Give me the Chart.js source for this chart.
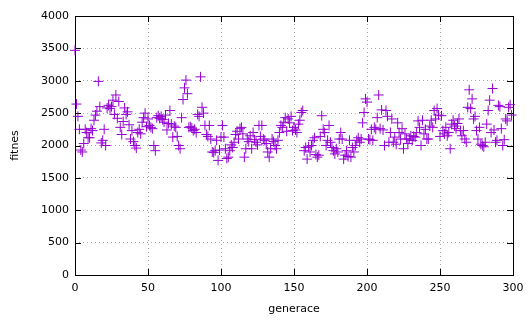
<!DOCTYPE html>
<html>
<head>
<meta charset="utf-8">
<script src="https://cdn.jsdelivr.net/npm/chart.js@4/dist/chart.umd.min.js"></script>
<style>
  html, body { margin: 0; padding: 0; background: #fff; }
  canvas { display: block; }
</style>
</head>
<body>
<canvas id="chart" width="526" height="325"></canvas>
<script>
// fitness per generation (gen 0..299)
const fitnes = [
  3470, 2640, 2450, 2250, 1930, 1900, 2030, 2250, 2200, 2120,
  2120, 2260, 2230, 2390, 2470, 2530, 2990, 2600, 2040, 2080,
  2250, 2000, 2580, 2620, 2570, 2600, 2700, 2480, 2780, 2420,
  2680, 2280, 2170, 2370, 2580, 2480, 2520, 2320, 2100, 2230,
  2060, 2000, 1960, 2200, 2250, 2180, 2360, 2430, 2500, 2290,
  2410, 2310, 2280, 2260, 2000, 1920, 2430, 2460, 2420, 2450,
  2400, 2360, 2470, 2240, 2340, 2540, 2330, 2130, 2300, 2280,
  2140, 2000, 1950, 2430, 2710, 2890, 3010, 2800, 2280, 2290,
  2270, 2230, 2250, 2200, 2480, 2450, 3060, 2590, 2500, 2310,
  2170, 2140, 2310, 2100, 1900, 1890, 1920, 2080, 1770, 1930,
  2130, 2310, 2130, 1950, 1800, 1820, 1920, 2010, 1970, 2050,
  2170, 2220, 2100, 2260, 2280, 2180, 1820, 1950, 2100, 2060,
  2150, 1950, 2200, 2090, 2050, 2010, 2310, 2140, 2310, 2100,
  2080, 2030, 1900, 1820, 1950, 2100, 2060, 2000, 1950, 2080,
  2200, 2310, 2280, 2360, 2430, 2220, 2410, 2350, 2450, 2230,
  2280, 2240, 2200, 2330, 2390, 2510, 2540, 1920, 1970, 1790,
  1980, 1900, 2000, 2080, 2120, 1860, 1820, 1850, 2140, 2460,
  2250, 2200, 2000, 2080, 2310, 2050, 1970, 1920, 1870, 1950,
  1900, 2100, 2200, 2100, 1790, 1850, 1920, 1830, 2080, 1820,
  1970, 1900, 2000, 2080, 2120, 2050, 2100, 2350, 2510, 2720,
  2670, 2100, 2090, 2250, 2080, 2280, 2250, 2430, 2780, 2260,
  2550, 2240, 2000, 2540, 2450, 2050, 2200, 2410, 2050, 2130,
  2020, 2350, 2200, 2100, 2260, 1950, 2180, 2100, 2030, 2100,
  2150, 2080, 2140, 2130, 2200, 2380, 2280, 2000, 2390, 2180,
  2250, 2100, 2100, 2300, 2390, 2280, 2540, 2410, 2570, 2470,
  2140, 2460, 2230, 2180, 2280, 2150, 2200, 1950, 2330, 2390,
  2300, 2260, 2340, 2410, 2230, 2150, 2230, 2100, 2050, 2590,
  2860, 2570, 2720, 2410, 2450, 2230, 2100, 2280, 2020, 2000,
  1980, 2050, 2330, 2540, 2700, 2200, 2880, 2240, 2050, 2080,
  2620, 2600, 2260, 2000, 2090, 2410, 2380, 2590, 2630, 2470
];
const generace = fitnes.map((_, i) => i);
const xTicks = [0, 50, 100, 150, 200, 250, 300];
const yTicks = [0, 500, 1000, 1500, 2000, 2500, 3000, 3500, 4000];

const points = generace.map((g, i) => ({ x: g, y: fitnes[i] }));

// gnuplot-like border with inward ticks on all four sides
const frame = {
  id: 'frame',
  beforeDatasetsDraw(chart) {
    const { ctx, chartArea: a, scales: { x, y } } = chart;
    ctx.save();
    ctx.strokeStyle = '#000';
    ctx.lineWidth = 1;
    ctx.beginPath();
    xTicks.forEach(v => {
      const px = Math.round(x.getPixelForValue(v)) + 0.5;
      ctx.moveTo(px, a.bottom); ctx.lineTo(px, a.bottom - 6);
      ctx.moveTo(px, a.top); ctx.lineTo(px, a.top + 6);
    });
    yTicks.forEach(v => {
      const py = Math.round(y.getPixelForValue(v)) + 0.5;
      ctx.moveTo(a.left, py); ctx.lineTo(a.left + 6, py);
      ctx.moveTo(a.right, py); ctx.lineTo(a.right - 6, py);
    });
    ctx.stroke();
    ctx.strokeRect(Math.round(a.left) + 0.5, Math.round(a.top) + 0.5,
      Math.round(a.right - a.left), Math.round(a.bottom - a.top));
    ctx.restore();
  }
};

const font = { family: 'DejaVu Sans', size: 11 };

new Chart(document.getElementById('chart'), {
  type: 'scatter',
  data: {
    datasets: [{
      data: points,
      pointStyle: 'cross',
      radius: 5,
      hoverRadius: 5,
      borderWidth: 1,
      borderColor: '#9400d3',
      backgroundColor: '#9400d3',
      clip: false
    }]
  },
  options: {
    responsive: false,
    animation: false,
    devicePixelRatio: 1,
    layout: { padding: { top: 16, right: 13, left: 0, bottom: 0 } },
    plugins: { legend: { display: false }, tooltip: { enabled: false } },
    scales: {
      x: {
        type: 'linear',
        min: 0, max: 300,
        afterBuildTicks: s => { s.ticks = xTicks.map(v => ({ value: v })); },
        afterFit: s => { s.height = 50; s.paddingLeft = 0; s.paddingRight = 0; },
        ticks: { font, color: '#000', padding: 7, maxRotation: 0, callback: v => String(v) },
        grid: { color: '#a8a8a8', lineWidth: 1, drawTicks: false },
        border: { display: false, dash: [1, 3] },
        title: { display: true, text: 'generace', font, color: '#000', padding: { top: 0, bottom: 9 } }
      },
      y: {
        type: 'linear',
        min: 0, max: 4000,
        afterBuildTicks: s => { s.ticks = yTicks.map(v => ({ value: v })); },
        afterFit: s => { s.width = 75; s.paddingTop = 0; s.paddingBottom = 0; },
        ticks: { font, color: '#000', padding: 6, callback: v => String(v) },
        grid: { color: '#a8a8a8', lineWidth: 1, drawTicks: false },
        border: { display: false, dash: [1, 3] },
        title: { display: true, text: 'fitnes', font, color: '#000', padding: { top: 9, bottom: 0 } }
      }
    }
  },
  plugins: [frame]
});
</script>
</body>
</html>
